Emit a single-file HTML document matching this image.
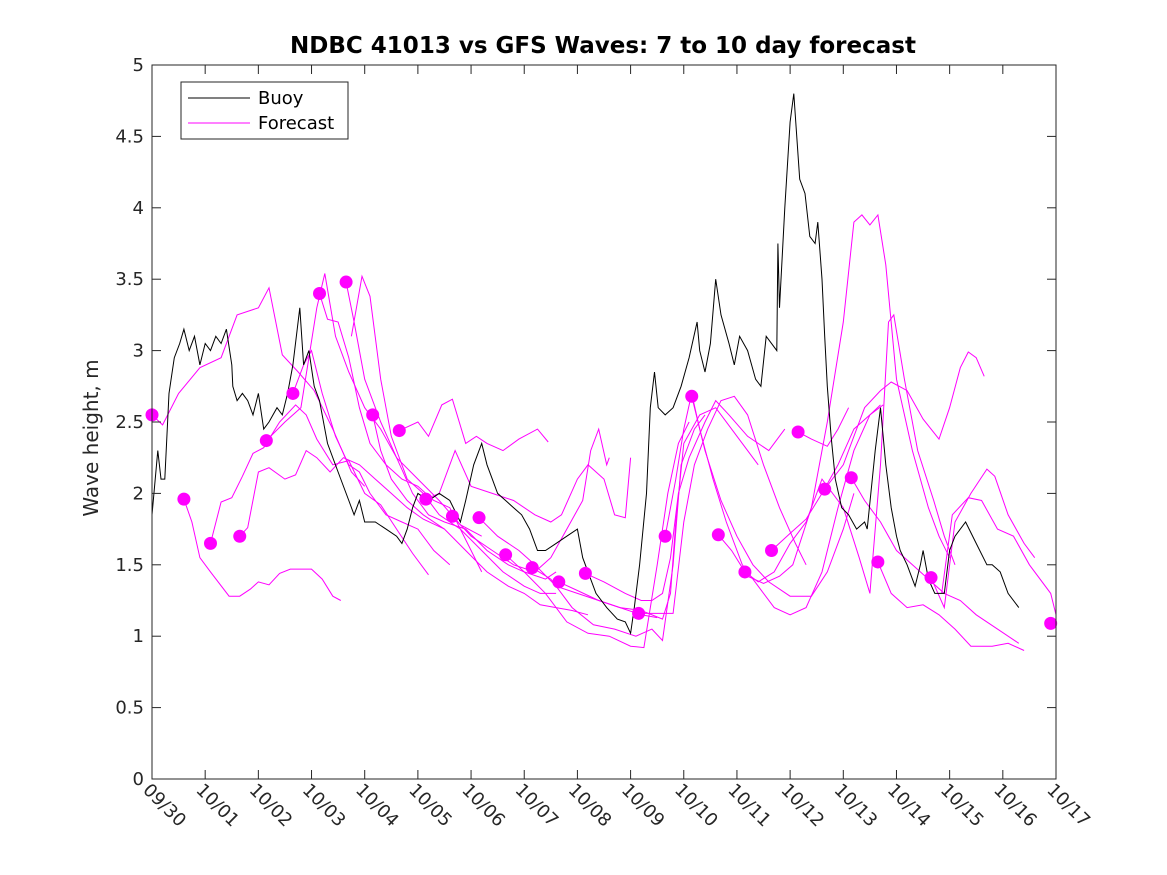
<!DOCTYPE html>
<html><head><meta charset="utf-8"><style>
html,body{margin:0;padding:0;background:#fff;}
svg{display:block;font-family:"DejaVu Sans","Liberation Sans",sans-serif;}
</style></head><body>
<svg id="chart" width="1167" height="875" viewBox="0 0 1167 875">
<rect x="0" y="0" width="1167" height="875" fill="#fff"/>
<text x="603" y="53" text-anchor="middle" font-size="23" font-weight="bold">NDBC 41013 vs GFS Waves: 7 to 10 day forecast</text>
<text transform="translate(98,438) rotate(-90)" text-anchor="middle" font-size="20" fill="#262626">Wave height, m</text>
<g id="plot"></g>
<g id="axes"></g>
<g id="legend">
<rect x="181" y="82" width="167" height="57" fill="#fff" stroke="#262626" stroke-width="1"/>
<line x1="188" y1="98" x2="250" y2="98" stroke="#000" stroke-width="1"/>
<text x="258" y="104" font-size="18">Buoy</text>
<line x1="188" y1="123" x2="250" y2="123" stroke="#f0f" stroke-width="1"/>
<text x="258" y="129" font-size="18">Forecast</text>
</g>
</svg>
<script>
const xTickLabels = ["09/30","10/01","10/02","10/03","10/04","10/05","10/06","10/07","10/08","10/09","10/10","10/11","10/12","10/13","10/14","10/15","10/16","10/17"];
const yTickLabels = ["0","0.5","1","1.5","2","2.5","3","3.5","4","4.5","5"];
const yTickValues = [0,0.5,1,1.5,2,2.5,3,3.5,4,4.5,5];
const buoyDays = [0,0.11,0.17,0.24,0.32,0.42,0.52,0.6,0.7,0.8,0.9,1.0,1.1,1.2,1.3,1.4,1.5,1.52,1.6,1.7,1.8,1.9,2.0,2.1,2.2,2.35,2.45,2.55,2.65,2.78,2.85,2.95,3.05,3.15,3.3,3.5,3.7,3.8,3.9,4.0,4.2,4.4,4.6,4.7,4.8,4.9,5.0,5.2,5.4,5.6,5.8,5.9,6.05,6.2,6.3,6.4,6.5,6.65,6.8,6.95,7.1,7.25,7.4,7.6,7.8,8.0,8.1,8.2,8.35,8.55,8.75,8.9,9.0,9.07,9.17,9.3,9.37,9.45,9.52,9.65,9.8,9.95,10.1,10.25,10.3,10.4,10.5,10.6,10.7,10.85,10.95,11.05,11.2,11.35,11.45,11.55,11.75,11.77,11.8,11.9,12.0,12.07,12.18,12.28,12.37,12.47,12.52,12.6,12.65,12.7,12.77,12.85,12.97,13.1,13.25,13.4,13.45,13.6,13.7,13.8,13.9,14.0,14.07,14.2,14.3,14.35,14.45,14.5,14.6,14.72,14.9,15.0,15.1,15.3,15.5,15.7,15.8,15.95,16.1,16.3];
const buoyValues = [1.85,2.3,2.1,2.1,2.7,2.95,3.05,3.15,3.0,3.1,2.9,3.05,3.0,3.1,3.05,3.15,2.9,2.75,2.65,2.7,2.65,2.55,2.7,2.45,2.5,2.6,2.55,2.7,2.9,3.3,2.9,3.0,2.75,2.65,2.35,2.15,1.95,1.85,1.95,1.8,1.8,1.75,1.7,1.65,1.75,1.9,2.0,1.95,2.0,1.95,1.8,1.95,2.2,2.35,2.2,2.1,2.0,1.95,1.9,1.85,1.75,1.6,1.6,1.65,1.7,1.75,1.55,1.45,1.3,1.2,1.12,1.1,1.02,1.2,1.5,2.0,2.6,2.85,2.6,2.55,2.6,2.75,2.95,3.2,3.0,2.85,3.05,3.5,3.25,3.05,2.9,3.1,3.0,2.8,2.75,3.1,3.0,3.75,3.3,4.0,4.6,4.8,4.2,4.1,3.8,3.75,3.9,3.5,3.1,2.75,2.4,2.1,1.9,1.85,1.75,1.8,1.75,2.3,2.6,2.2,1.9,1.7,1.6,1.5,1.4,1.35,1.5,1.6,1.4,1.3,1.3,1.6,1.7,1.8,1.65,1.5,1.5,1.45,1.3,1.2];
const dotDays = [0,0.6,1.1,1.65,2.15,2.65,3.15,3.65,4.15,4.65,5.15,5.65,6.15,6.65,7.15,7.65,8.15,9.15,9.65,10.15,10.65,11.15,11.65,12.15,12.65,13.15,13.65,14.65,16.9];
const dotValues = [2.55,1.96,1.65,1.7,2.37,2.7,3.4,3.48,2.55,2.44,1.96,1.84,1.83,1.57,1.48,1.38,1.44,1.16,1.7,2.68,1.71,1.45,1.6,2.43,2.03,2.11,1.52,1.41,1.09];
const fcA = [[0,2.55],[0.2,2.48],[0.5,2.7],[0.9,2.88],[1.3,2.95],[1.6,3.25],[2.0,3.3],[2.2,3.44],[2.45,2.97],[2.75,2.85],[3.05,2.72],[3.4,2.45],[3.75,2.15],[4.0,2.05]];
const fcB = [[0.6,1.96],[0.75,1.8],[0.9,1.55],[1.1,1.45],[1.45,1.28],[1.65,1.28],[1.85,1.33],[2.0,1.38],[2.2,1.36],[2.4,1.44],[2.6,1.47],[3.0,1.47],[3.2,1.4],[3.4,1.28],[3.55,1.25]];
const fcC = [[1.1,1.65],[1.3,1.94],[1.5,1.97],[1.7,2.12],[1.9,2.28],[2.1,2.32],[2.4,2.5],[2.7,2.62],[2.9,2.55],[3.1,2.38],[3.4,2.2],[3.7,2.23],[4.0,2.0],[4.3,1.92],[4.6,1.75],[4.9,1.58],[5.2,1.43]];
const fcD = [[1.65,1.7],[1.8,1.76],[2.0,2.15],[2.2,2.18],[2.5,2.1],[2.7,2.13],[2.9,2.3],[3.1,2.25],[3.35,2.15],[3.6,2.25],[3.9,2.2],[4.2,2.1],[4.5,2.0],[4.8,1.9],[5.1,1.82],[5.5,1.75]];
const fcE = [[2.15,2.37],[2.5,2.5],[2.8,2.6],[2.95,2.95],[3.1,3.3],[3.25,3.54],[3.45,3.1],[3.7,2.85],[4.0,2.6],[4.3,2.45],[4.6,2.25],[5.0,2.1],[5.4,1.95],[5.8,1.78],[6.2,1.7]];
const fcF = [[2.65,2.7],[2.85,2.9],[3.0,3.0],[3.2,2.7],[3.45,2.4],[3.7,2.2],[3.9,2.15],[4.1,2.0],[4.4,1.85],[4.7,1.8],[5.0,1.75],[5.3,1.6],[5.6,1.5]];
const fcG = [[3.15,3.4],[3.3,3.22],[3.5,3.2],[3.7,2.95],[3.9,2.6],[4.1,2.35],[4.4,2.2],[4.7,2.1],[5.0,2.05],[5.3,1.95],[5.6,1.9],[5.8,1.75],[6.0,1.6],[6.2,1.45]];
const fcH = [[3.65,3.48],[3.8,3.2],[4.0,2.8],[4.3,2.5],[4.6,2.25],[4.9,2.0],[5.2,1.85],[5.5,1.8],[5.9,1.75],[6.3,1.6],[6.7,1.5],[7.0,1.45],[7.4,1.4],[7.6,1.45]];
const fcI = [[3.75,3.1],[3.95,3.52],[4.1,3.38],[4.3,2.8],[4.5,2.4],[4.8,2.1],[5.1,2.0],[5.4,1.85],[5.8,1.75],[6.2,1.6],[6.6,1.45],[7.0,1.35],[7.3,1.3],[7.6,1.3]];
const fcJ = [[4.15,2.55],[4.3,2.3],[4.5,2.1],[4.8,1.95],[5.1,1.85],[5.5,1.75],[5.9,1.6],[6.3,1.45],[6.7,1.35],[7.0,1.3],[7.3,1.22],[7.6,1.2],[7.9,1.18],[8.2,1.15]];
const fcK = [[4.65,2.44],[5.0,2.5],[5.2,2.4],[5.45,2.62],[5.65,2.66],[5.9,2.35],[6.1,2.4],[6.3,2.35],[6.6,2.3],[6.9,2.38],[7.25,2.45],[7.45,2.36]];
const fcL = [[5.15,1.96],[5.4,2.0],[5.7,2.3],[6.0,2.05],[6.4,2.0],[6.8,1.95],[7.2,1.85],[7.5,1.8],[7.7,1.85],[8.0,2.1],[8.2,2.2],[8.5,2.1],[8.7,1.85],[8.9,1.83],[9.0,2.25]];
const fcM = [[5.65,1.84],[6.0,1.7],[6.4,1.6],[6.8,1.5],[7.2,1.45],[7.5,1.55],[7.8,1.75],[8.1,1.95],[8.25,2.3],[8.4,2.45],[8.55,2.2],[8.6,2.25]];
const fcN = [[6.15,1.83],[6.5,1.7],[6.9,1.6],[7.2,1.5],[7.6,1.35],[8.0,1.3],[8.4,1.25],[8.8,1.2],[9.2,1.15],[9.5,1.13]];
const fcO = [[6.65,1.57],[7.0,1.45],[7.4,1.3],[7.8,1.1],[8.2,1.02],[8.6,1.0],[9.0,0.93],[9.25,0.92],[9.5,1.5],[9.7,2.0],[9.9,2.35],[10.1,2.5]];
const fcP = [[7.15,1.48],[7.5,1.4],[7.9,1.2],[8.3,1.08],[8.7,1.05],[9.1,1.0],[9.4,1.05],[9.6,0.97],[9.8,1.5],[9.95,2.2],[10.2,2.45],[10.4,2.55]];
const fcQ = [[7.65,1.38],[8.0,1.32],[8.4,1.25],[8.8,1.2],[9.2,1.18],[9.6,1.12],[9.75,1.3],[9.85,1.8],[10.0,2.35],[10.3,2.55],[10.6,2.6],[10.9,2.45],[11.2,2.3],[11.4,2.2]];
const fcR = [[8.15,1.44],[8.5,1.38],[8.9,1.3],[9.2,1.25],[9.4,1.25],[9.6,1.3],[9.75,1.55],[9.9,2.0],[10.1,2.25],[10.4,2.5],[10.6,2.65],[10.85,2.55],[11.2,2.4],[11.6,2.3],[11.9,2.45]];
const fcS = [[9.15,1.16],[9.5,1.16],[9.8,1.16],[10.0,1.8],[10.2,2.2],[10.45,2.45],[10.7,2.65],[10.95,2.68],[11.2,2.55],[11.5,2.2],[11.8,1.9],[12.1,1.65],[12.3,1.5]];
const fcT = [[9.65,1.7],[9.85,2.1],[10.0,2.45],[10.15,2.7],[10.3,2.45],[10.55,2.1],[10.8,1.8],[11.1,1.5],[11.4,1.35],[11.7,1.2],[12.0,1.15],[12.3,1.2],[12.6,1.45],[12.9,1.9],[13.2,2.3],[13.5,2.55],[13.7,2.62]];
const fcU = [[10.15,2.68],[10.4,2.3],[10.7,1.95],[11.0,1.7],[11.3,1.5],[11.6,1.38],[12.0,1.28],[12.4,1.28],[12.7,1.45],[13.0,1.75],[13.2,2.0]];
const fcV = [[10.65,1.71],[10.9,1.6],[11.2,1.42],[11.5,1.37],[11.8,1.42],[12.05,1.5],[12.4,1.9],[12.7,2.5],[13.0,3.2],[13.2,3.9],[13.35,3.95],[13.5,3.88],[13.65,3.95],[13.8,3.6],[14.0,2.8],[14.3,2.3],[14.6,1.9],[14.8,1.7],[15.0,1.55]];
const fcW = [[11.15,1.45],[11.4,1.38],[11.7,1.45],[12.0,1.65],[12.3,1.8],[12.6,2.1],[13.0,1.9],[13.3,1.55],[13.5,1.3],[13.7,2.2],[13.85,3.2],[13.95,3.25],[14.15,2.8],[14.4,2.3],[14.7,1.95],[14.9,1.7],[15.1,1.5]];
const fcX = [[11.65,1.6],[12.0,1.72],[12.3,1.82],[12.6,2.0],[12.9,2.2],[13.2,2.45],[13.5,2.55],[13.75,2.62]];
const fcY = [[12.15,2.43],[12.4,2.38],[12.7,2.33],[12.9,2.45],[13.1,2.6]];
const fcZ = [[12.65,2.03],[13.0,2.2],[13.4,2.6],[13.7,2.72],[13.9,2.78],[14.2,2.72],[14.5,2.52],[14.8,2.38],[15.0,2.6],[15.2,2.88],[15.35,2.99],[15.5,2.95],[15.65,2.82]];
const fcAA = [[13.15,2.11],[13.4,1.95],[13.7,1.8],[14.0,1.6],[14.3,1.5],[14.6,1.4],[14.9,1.3],[15.2,1.25],[15.5,1.15],[15.9,1.05],[16.3,0.95]];
const fcAB = [[13.65,1.52],[13.9,1.3],[14.2,1.2],[14.5,1.22],[14.8,1.15],[15.1,1.05],[15.4,0.93],[15.8,0.93],[16.1,0.95],[16.4,0.9]];
const fcAC = [[14.65,1.41],[14.9,1.2],[15.1,1.8],[15.4,2.0],[15.7,2.17],[15.85,2.12],[16.1,1.85],[16.4,1.65],[16.6,1.55]];
const fcAD = [[14.85,1.3],[15.05,1.85],[15.35,1.97],[15.6,1.95],[15.9,1.75],[16.2,1.7],[16.5,1.5],[16.9,1.3],[17.0,1.15]];
const forecasts = [fcA,fcB,fcC,fcD,fcE,fcF,fcG,fcH,fcI,fcJ,fcK,fcL,fcM,fcN,fcO,fcP,fcQ,fcR,fcS,fcT,fcU,fcV,fcW,fcX,fcY,fcZ,fcAA,fcAB,fcAC,fcAD];

const X0=152,X1=1056,Y0=779,Y1=65,XMAX=17,YMAX=5;
function xs(d){return X0+(X1-X0)*d/XMAX;}
function ys(v){return Y0-(Y0-Y1)*v/YMAX;}
const NS="http://www.w3.org/2000/svg";
const plot=document.getElementById('plot'), axes=document.getElementById('axes');
function mk(tag,attrs,parent){const e=document.createElementNS(NS,tag);for(const k in attrs)e.setAttribute(k,attrs[k]);parent.appendChild(e);return e;}

forecasts.forEach((s,i)=>{
  const p=mk('polyline',{points:s.map(q=>xs(q[0]).toFixed(1)+','+ys(q[1]).toFixed(1)).join(' '),fill:'none',stroke:'#f0f','stroke-width':1},plot);
  
  
});
const bl=mk('polyline',{points:buoyDays.map((d,i)=>xs(d).toFixed(1)+','+ys(buoyValues[i]).toFixed(1)).join(' '),fill:'none',stroke:'#000','stroke-width':1},plot);


dotDays.forEach((d,i)=>{
  const c=mk('circle',{cx:xs(d),cy:ys(dotValues[i]),r:6.5,fill:'#f0f'},plot);
  
  
});

const frame=mk('rect',{x:X0,y:Y1,width:X1-X0,height:Y0-Y1,fill:'none',stroke:'#262626','stroke-width':1},axes);


yTickValues.forEach((v,i)=>{
  const y=ys(v);
  mk('line',{x1:X0,y1:y,x2:X0+9,y2:y,stroke:'#262626'},axes);
  mk('line',{x1:X1,y1:y,x2:X1-9,y2:y,stroke:'#262626'},axes);
  const t=mk('text',{x:X0-8,y:y+6,'text-anchor':'end','font-size':18,fill:'#262626'},axes);
  t.textContent=yTickLabels[i];
  
  
});
xTickLabels.forEach((lab,i)=>{
  const x=xs(i);
  mk('line',{x1:x,y1:Y0,x2:x,y2:Y0-9,stroke:'#262626'},axes);
  mk('line',{x1:x,y1:Y1,x2:x,y2:Y1+9,stroke:'#262626'},axes);
  const t=mk('text',{transform:'translate('+(x-10)+','+(Y0+12)+') rotate(45)','font-size':18,fill:'#262626'},axes);
  t.textContent=lab;
  
  
});
</script>
</body></html>
